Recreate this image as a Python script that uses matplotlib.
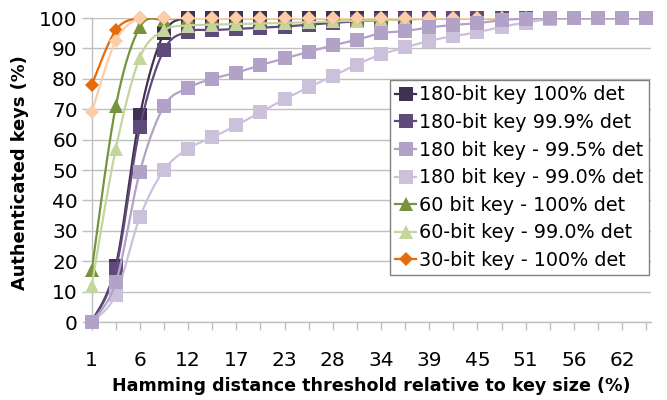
import numpy as np
import matplotlib
matplotlib.use('Agg')
import matplotlib.pyplot as plt
from matplotlib.lines import Line2D

# ---- data ----
x_labels = ['1', '3', '6', '9', '12', '14', '17', '20', '23', '26', '28', '31',
            '34', '37', '39', '42', '45', '48', '51', '53', '56', '59', '62', '64']

k180_100 = [0, 18.5, 68, 95, 100, 100, 100, 100, 100, 100, 100, 100,
            100, 100, 100, 100, 100, 100, 100, 100, 100, 100, 100, 100]
k180_999 = [0, 17.4, 64, 89.5, 95.5, 96, 96.4, 96.8, 97.2, 97.8, 98.4, 98.9,
            99.3, 99.6, 99.8, 100, 100, 100, 100, 100, 100, 100, 100, 100]
k180_995 = [0, 13, 49.5, 71, 77, 80, 82, 84.5, 86.7, 88.9, 91, 92.8,
            95, 95.7, 96.9, 97.7, 98.3, 99.3, 99.8, 100, 100, 100, 100, 100]
k180_990 = [0, 9, 34.5, 50, 57, 60.7, 64.7, 69, 73.3, 77.2, 80.9, 84.7,
            88, 90.3, 92.5, 94, 95.3, 97.1, 98.5, 99.6, 100, 100, 100, 100]
k60_100 = [17, 71, 97, 99.5, 100, 100, 100, 100, 100, 100, 100, 100,
           100, 100, 100, 100, 100, 100, 100, 100, 100, 100, 100, 100]
k60_990 = [12, 57, 87, 96, 97.5, 97.8, 98, 98.2, 98.4, 98.6, 98.9, 99.1,
           99.3, 99.5, 99.7, 99.8, 100, 100, 100, 100, 100, 100, 100, 100]
k30_100 = [78, 96, 100, 100, 100, 100, 100, 100, 100, 100, 100, 100,
           100, 100, 100, 100, 100, 100, 100, 100, 100, 100, 100, 100]
k30_990 = [69, 92.5, 100, 100, 100, 100, 100, 100, 100, 100, 100, 100,
           100, 100, 100, 100, 100, 100, 100, 100, 100, 100, 100, 100]

series_labels = ['180-bit key 100% det', '180-bit key 99.9% det',
                 '180 bit key - 99.5% det', '180 bit key - 99.0% det',
                 '60 bit key - 100% det', '60-bit key - 99.0% det',
                 '30-bit key - 100% det']

# ---- styles ----
styles = [
    # (values, label, color, marker, ms, zorder)
    (k180_100, series_labels[0], '#3F3151', 's', 9.6, 3),
    (k180_999, series_labels[1], '#604A7B', 's', 9.6, 4),
    (k180_995, series_labels[2], '#B3A2C7', 's', 9.6, 10),
    (k180_990, series_labels[3], '#CCC1DA', 's', 9.6, 9),
    (k60_100, series_labels[4], '#77933C', '^', 9.5, 5),
    (k60_990, series_labels[5], '#C3D69B', '^', 9.5, 6),
    (k30_100, series_labels[6], '#E46C0A', 'D', 7.0, 7),
    (k30_990, None, '#FBCDA8', 'D', 7.0, 8),
]


def smooth(xs, ys, n=24):
    P = np.column_stack([xs, ys]).astype(float)
    out = [P[0]]
    t = np.linspace(0, 1, n)[1:, None]
    for i in range(len(P) - 1):
        p0 = P[i - 1] if i > 0 else P[i]
        p1 = P[i]
        p2 = P[i + 1]
        p3 = P[i + 2] if i + 2 < len(P) else P[i + 1]
        c1 = p1 + (p2 - p0) / 6.0
        c2 = p2 - (p3 - p1) / 6.0
        seg = ((1 - t) ** 3) * p1 + 3 * ((1 - t) ** 2) * t * c1 + 3 * (1 - t) * t ** 2 * c2 + t ** 3 * p2
        out.extend(seg)
    return np.array(out)


plt.rcParams['font.family'] = ['DejaVu Sans']

W, H = 667, 400
fig = plt.figure(figsize=(W / 100, H / 100), dpi=100)
L, R, T, B = 91.7, 651, 18, 322
ax = fig.add_axes([L / W, 1 - B / H, (R - L) / W, (B - T) / H])

x = np.arange(len(x_labels))
handles = []
for vals, lab, col, mk, ms, z in styles:
    s = smooth(x, vals)
    ax.plot(s[:, 0], s[:, 1], color=col, lw=1.6, zorder=z, solid_capstyle='round')
    ax.plot(x, vals, linestyle='none', marker=mk, ms=ms, mew=0, color=col, zorder=z + 0.5,
            clip_on=False)
    if lab is not None:
        handles.append(Line2D([0], [0], color=col, lw=1.6, marker=mk, ms=ms, mew=0, label=lab))

ax.set_xlim(0, 23.2)
ax.set_ylim(0, 100)
ax.set_yticks(np.arange(0, 101, 10))
ax.set_xticks(x)
ax.set_xticklabels([lab if i % 2 == 0 else '' for i, lab in enumerate(x_labels)])

grid_col = '#BFBFBF'
ax.grid(axis='y', color=grid_col, lw=1.0, zorder=0)
ax.set_axisbelow(True)
for sp in ['top', 'right']:
    ax.spines[sp].set_visible(False)
for sp in ['left', 'bottom']:
    ax.spines[sp].set_color(grid_col)
    ax.spines[sp].set_linewidth(1.0)

ax.tick_params(axis='y', direction='out', length=7, width=1.0, color=grid_col,
               labelsize=14.5, pad=3)
ax.tick_params(axis='x', direction='out', length=6, width=1.0, color=grid_col,
               labelsize=14.5, pad=15)

ax.set_ylabel('Authenticated keys (%)', fontsize=12.8, fontweight='bold', va='center')
ax.yaxis.set_label_coords((20 - L) / (R - L), 0.49)
ax.set_xlabel('Hamming distance threshold relative to key size (%)', fontsize=12.6,
              fontweight='bold', va='center')
ax.xaxis.set_label_coords(0.5, (B - 386) / (B - T))

leg = ax.legend(handles=handles, loc='upper left',
                bbox_to_anchor=((390 - L) / (R - L), (B - 80) / (B - T)),
                borderaxespad=0, frameon=True, fancybox=False, framealpha=1,
                edgecolor='#808080', handlelength=1.1, handletextpad=0.15,
                labelspacing=0.45, borderpad=0.28, fontsize=13.8)
leg.get_frame().set_linewidth(1.0)
leg.set_zorder(20)

fig.savefig('out.png', dpi=100)
